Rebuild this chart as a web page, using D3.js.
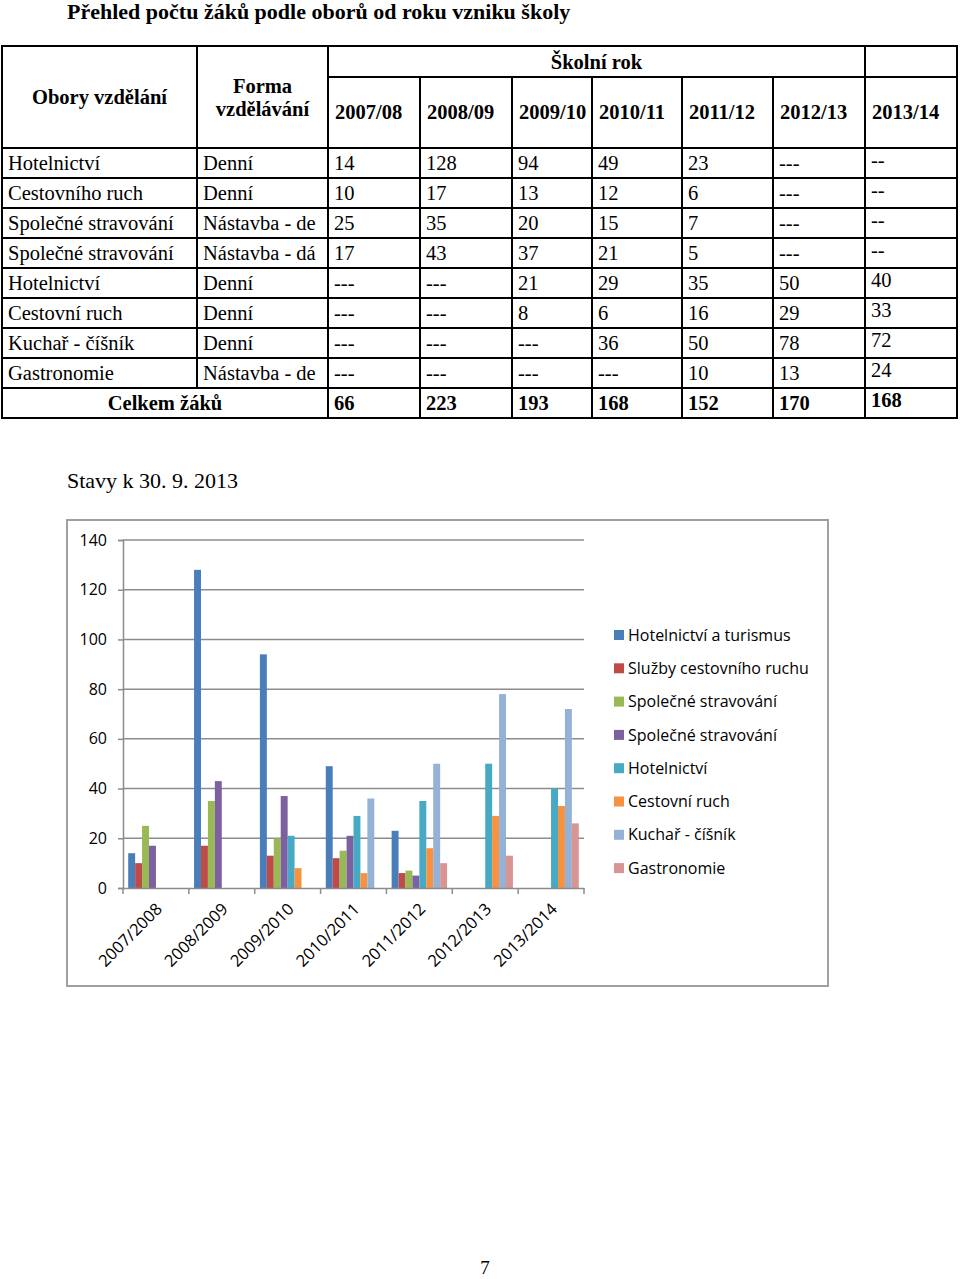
<!DOCTYPE html>
<html lang="cs">
<head>
<meta charset="utf-8">
<title>Přehled počtu žáků</title>
<script src="https://d3js.org/d3.v7.min.js"></script>
<style>
    body { margin: 0; background: #fff; }
    .serif { font-family: "Liberation Serif", "Times New Roman", serif; }
    .sans { font-family: "Open Sans", "Noto Sans", sans-serif; }
</style>
</head>
<body>
<div id="page"></div>
<script>
// ---- table data ----
var tableTitle = 'Přehled počtu žáků podle oborů od roku vzniku školy';
var tableYears = ['2007/08', '2008/09', '2009/10', '2010/11', '2011/12', '2012/13', '2013/14'];
var tableFields = ['Hotelnictví', 'Cestovního ruch', 'Společné stravování', 'Společné stravování',
                   'Hotelnictví', 'Cestovní ruch', 'Kuchař - číšník', 'Gastronomie'];
var tableForms = ['Denní', 'Denní', 'Nástavba - de', 'Nástavba - dá', 'Denní', 'Denní', 'Denní', 'Nástavba - de'];
var tableCells = [
    ['14', '128', '94', '49', '23', '---', '--'],
    ['10', '17', '13', '12', '6', '---', '--'],
    ['25', '35', '20', '15', '7', '---', '--'],
    ['17', '43', '37', '21', '5', '---', '--'],
    ['---', '---', '21', '29', '35', '50', '40'],
    ['---', '---', '8', '6', '16', '29', '33'],
    ['---', '---', '---', '36', '50', '78', '72'],
    ['---', '---', '---', '---', '10', '13', '24']
];
var tableTotals = ['66', '223', '193', '168', '152', '170', '168'];

// ---- chart data ----
var chartCaption = 'Stavy k 30. 9. 2013';
var categories = ['2007/2008', '2008/2009', '2009/2010', '2010/2011', '2011/2012', '2012/2013', '2013/2014'];
var seriesNames = ['Hotelnictví a turismus', 'Služby cestovního ruchu', 'Společné stravování', 'Společné stravování',
                   'Hotelnictví', 'Cestovní ruch', 'Kuchař - číšník', 'Gastronomie'];
var seriesColors = ['#4a7ebb', '#be4b48', '#98b954', '#7d60a0', '#46aac5', '#f69240', '#94b1d6', '#d99593'];
var seriesValues = [
    [14, 128, 94, 49, 23, null, null],
    [10, 17, 13, 12, 6, null, null],
    [25, 35, 20, 15, 7, null, null],
    [17, 43, 37, 21, 5, null, null],
    [null, null, 21, 29, 35, 50, 40],
    [null, null, 8, 6, 16, 29, 33],
    [null, null, null, 36, 50, 78, 72],
    [null, null, null, null, 10, 13, 26]
];
var yTicks = [0, 20, 40, 60, 80, 100, 120, 140];

var svg = d3.select('#page').append('svg')
    .attr('width', 960).attr('height', 1279);

// ================= TABLE =================
svg.append('text').attr('class', 'serif')
    .attr('x', 67).attr('y', 19)
    .attr('font-size', 22).attr('font-weight', 'bold')
    .text(tableTitle);

var colX = [2, 197, 328, 420, 512, 592, 682, 773, 865, 957];
var rowY = [148, 178, 208, 238, 268, 298, 328, 358, 388, 418];
var tbl = svg.append('g').attr('class', 'serif').attr('font-size', 20.5);
var lineStyle = function (sel) { return sel.attr('stroke', '#000').attr('stroke-width', 2); };

// outer frame
tbl.append('rect').attr('x', colX[0]).attr('y', 46).attr('width', colX[9] - colX[0]).attr('height', 418 - 46)
    .attr('fill', 'none').call(lineStyle);
// horizontal lines
tbl.append('line').attr('x1', colX[2]).attr('x2', colX[9]).attr('y1', 77).attr('y2', 77).call(lineStyle);
rowY.slice(0, -1).forEach(function (y) {
    tbl.append('line').attr('x1', colX[0]).attr('x2', colX[9]).attr('y1', y).attr('y2', y).call(lineStyle);
});
// vertical lines
colX.slice(1, -1).forEach(function (x, i) {
    var idx = i + 1;
    var top = (idx >= 3 && idx <= 7) ? 77 : 46;
    var bottom = (idx === 1) ? rowY[8] : 418;
    tbl.append('line').attr('x1', x).attr('x2', x).attr('y1', top).attr('y2', bottom).call(lineStyle);
});

// header
tbl.append('text').attr('x', (colX[0] + colX[1]) / 2).attr('y', 104).attr('text-anchor', 'middle')
    .attr('font-weight', 'bold').text('Obory vzdělání');
tbl.append('text').attr('x', (colX[1] + colX[2]) / 2).attr('y', 93).attr('text-anchor', 'middle')
    .attr('font-weight', 'bold').text('Forma');
tbl.append('text').attr('x', (colX[1] + colX[2]) / 2).attr('y', 116).attr('text-anchor', 'middle')
    .attr('font-weight', 'bold').text('vzdělávání');
tbl.append('text').attr('x', (colX[2] + colX[8]) / 2).attr('y', 69).attr('text-anchor', 'middle')
    .attr('font-weight', 'bold').text('Školní rok');
tableYears.forEach(function (yr, i) {
    tbl.append('text').attr('x', colX[i + 2] + 7).attr('y', 119)
        .attr('font-weight', 'bold').text(yr);
});

// body rows
tableFields.forEach(function (f, r) {
    var base = rowY[r] + 22;
    tbl.append('text').attr('x', colX[0] + 6).attr('y', base).text(f);
    tbl.append('text').attr('x', colX[1] + 6).attr('y', base).text(tableForms[r]);
    tableCells[r].forEach(function (v, c) {
        tbl.append('text').attr('x', colX[c + 2] + 6).attr('y', c === 6 ? base - 3 : base).text(v);
    });
});
// totals
tbl.append('text').attr('x', (colX[0] + colX[2]) / 2).attr('y', rowY[8] + 22).attr('text-anchor', 'middle')
    .attr('font-weight', 'bold').text('Celkem žáků');
tableTotals.forEach(function (v, c) {
    tbl.append('text').attr('x', colX[c + 2] + 6).attr('y', c === 6 ? rowY[8] + 19 : rowY[8] + 22)
        .attr('font-weight', 'bold').text(v);
});

// ================= CHART =================
svg.append('text').attr('class', 'serif')
    .attr('x', 67).attr('y', 488).attr('font-size', 22)
    .text(chartCaption);

svg.append('rect').attr('x', 67).attr('y', 520).attr('width', 761).attr('height', 466)
    .attr('fill', '#fff').attr('stroke', '#a0a0a0').attr('stroke-width', 2);

var plot = { left: 123, right: 584, top: 540, bottom: 888 };
var x0 = d3.scaleBand().domain(categories).range([plot.left, plot.right]).paddingInner(0).paddingOuter(0);
var barW = x0.bandwidth() / 9.5;
var y = d3.scaleLinear().domain([0, 140]).range([plot.bottom, plot.top]);

var chart = svg.append('g').attr('class', 'sans');

// gridlines
chart.selectAll('.grid').data(yTicks.slice(1)).enter().append('line')
    .attr('x1', plot.left).attr('x2', plot.right)
    .attr('y1', function (d) { return y(d); }).attr('y2', function (d) { return y(d); })
    .attr('stroke', '#8c8c8c').attr('stroke-width', 1.5);

// bars
seriesValues.forEach(function (vals, s) {
    chart.selectAll('.bar' + s)
        .data(vals.map(function (v, i) { return { cat: categories[i], v: v }; }).filter(function (d) { return d.v !== null; }))
        .enter().append('rect')
        .attr('x', function (d) { return x0(d.cat) + barW * 0.75 + s * barW; })
        .attr('y', function (d) { return y(d.v); })
        .attr('width', barW)
        .attr('height', function (d) { return y(0) - y(d.v); })
        .attr('fill', seriesColors[s]);
});

// y axis
var yAxis = chart.append('g').attr('transform', 'translate(' + plot.left + ',0)')
    .call(d3.axisLeft(y).tickValues(yTicks).tickSize(5).tickPadding(11));
yAxis.select('.domain').attr('stroke', '#8c8c8c').attr('stroke-width', 1.5);
yAxis.selectAll('.tick line').attr('stroke', '#8c8c8c').attr('stroke-width', 1.5);
yAxis.selectAll('.tick text').attr('font-family', '"Open Sans", sans-serif').attr('font-size', 16).attr('fill', '#000');

// x axis
var xAxis = chart.append('g').attr('transform', 'translate(0,' + plot.bottom + ')')
    .call(d3.axisBottom(x0).tickSize(0).tickFormat(''));
xAxis.select('.domain').attr('stroke', '#8c8c8c').attr('stroke-width', 1.5);
xAxis.selectAll('.tick').remove();
chart.selectAll('.xtick').data(d3.range(categories.length + 1)).enter().append('line')
    .attr('x1', function (i) { return plot.left + i * x0.bandwidth(); })
    .attr('x2', function (i) { return plot.left + i * x0.bandwidth(); })
    .attr('y1', plot.bottom).attr('y2', plot.bottom + 6)
    .attr('stroke', '#8c8c8c').attr('stroke-width', 1.5);
chart.selectAll('.xlabel').data(categories).enter().append('text')
    .attr('transform', function (d) {
        return 'translate(' + (x0(d) + x0.bandwidth() / 2 - 1) + ',' + (plot.bottom + 14) + ') rotate(-45)';
    })
    .attr('text-anchor', 'end').attr('dy', '0.7em')
    .attr('font-size', 16.5).text(function (d) { return d; });

// legend
var legend = chart.selectAll('.legend').data(seriesNames).enter().append('g')
    .attr('transform', function (d, i) { return 'translate(614,' + (635 + i * 33.3) + ')'; });
legend.append('rect').attr('x', 0).attr('y', -5).attr('width', 10).attr('height', 10)
    .attr('fill', function (d, i) { return seriesColors[i]; });
legend.append('text').attr('x', 14).attr('dy', '0.35em').attr('font-size', 16).text(function (d) { return d; });

// page number
svg.append('text').attr('class', 'serif').attr('x', 485).attr('y', 1274)
    .attr('text-anchor', 'middle').attr('font-size', 19).text('7');
</script>
</body>
</html>
